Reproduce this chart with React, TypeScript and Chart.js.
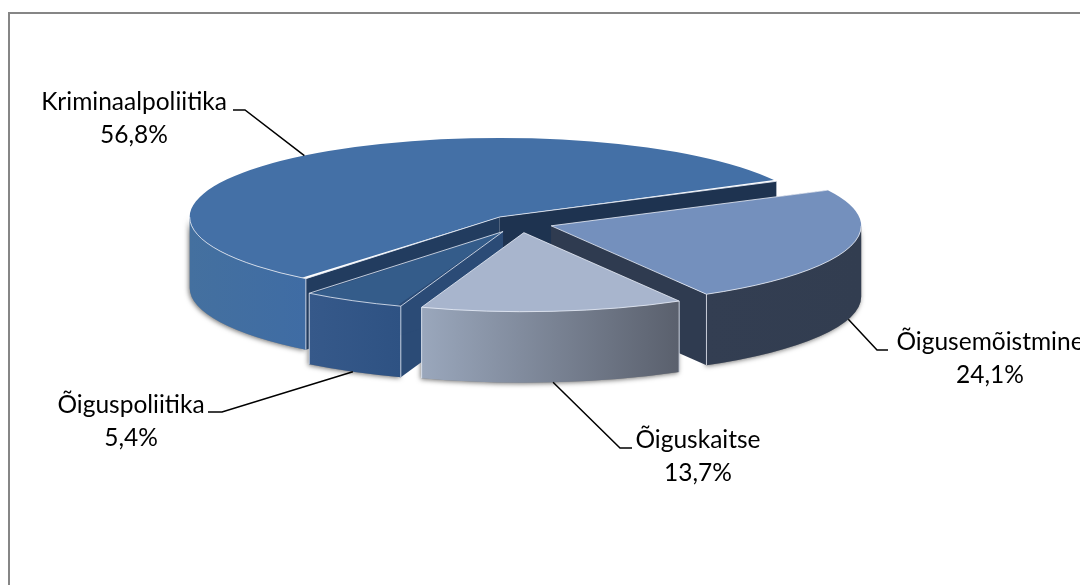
import React, { useEffect, useRef } from "react";
import { Chart, registerables } from "chart.js";

Chart.register(...registerables);

const categories = ["Kriminaalpoliitika", "Õigusemõistmine", "Õiguskaitse", "Õiguspoliitika"];
const shares = [56.8, 24.1, 13.7, 5.4];
const explode = [33, 32, 36, 36];
const topColors = ["#4470a6", "#7490bd", "#a8b5cd", "#345c8a"];
const wallColors = [["#44709f", "#3f6ca4"], ["#333e52", "#323d50"], ["#9aa7bc", "#5a606d"], ["#36598a", "#2e5283"]];
const cutColors = ["#223c5f", "#2f3b50", "#a8b5cd", "#2b4b76"];
const cutColorsEnd = ["#1e3350", "#2f3b50", "#a8b5cd", "#2b4b76"];

// Layout of the 3D look and of the labels, not data.
const SQUASH = 0.255;
const DEPTH = 71;
const PIE_RADIUS = 310;
const FONT = '24.5px Lato, "Open Sans", sans-serif';
const labelLayout = [
  { cx: 134, base: 110, elbow: [245, 110], end: [233, 110] },
  { cx: 990, base: 350, elbow: [877, 350], end: [888, 350] },
  { cx: 698, base: 448, elbow: [620, 448], end: [632, 448] },
  { cx: 131, base: 413, elbow: [222, 412], end: [208, 412] },
];
const paintOrder = [0, 1, 3, 2];

// Chart.js grows an exploded arc by offset * fix, with fix depending on its sweep.
function growth(arc: any) {
  const o = (arc.options.offset || 0) / 4;
  return o * (1 - Math.sin(Math.min(Math.PI, arc.circumference || 0)));
}

function geom(arc: any, cy: number) {
  const o = (arc.options.offset || 0) / 4;
  const s = arc.startAngle;
  const e = arc.endAngle;
  const mid = (s + e) / 2;
  const tx = arc.x + Math.cos(mid) * o;
  const ty = cy + (arc.y + Math.sin(mid) * o - cy) * SQUASH;
  const r = arc.outerRadius + growth(arc);
  const pt = (a: number): [number, number] => [tx + r * Math.cos(a), ty + r * SQUASH * Math.sin(a)];
  const front: [number, number][] = [];
  for (let n = 0; n < 2; n++) {
    const lo = Math.max(s, 2 * Math.PI * n);
    const hi = Math.min(e, 2 * Math.PI * n + Math.PI);
    if (hi > lo) front.push([lo, hi]);
  }
  return { s, e, mid, tx, ty, r, pt, front };
}

function wallPath(ctx: CanvasRenderingContext2D, g: any, a0: number, a1: number) {
  ctx.beginPath();
  ctx.ellipse(g.tx, g.ty, g.r, g.r * SQUASH, 0, a0, a1);
  ctx.ellipse(g.tx, g.ty + DEPTH, g.r, g.r * SQUASH, 0, a1, a0, true);
  ctx.closePath();
}

const pie3d = {
  id: "pie3d",
  afterDatasetsUpdate(chart: any) {
    chart.getDatasetMeta(0).data.forEach((arc: any) => {
      arc.outerRadius = PIE_RADIUS - growth(arc);
    });
  },
  beforeDraw(chart: any) {
    const ctx = chart.ctx;
    ctx.save();
    ctx.fillStyle = "#ffffff";
    ctx.fillRect(0, 0, chart.width, chart.height);
    ctx.strokeStyle = "#868686";
    ctx.lineWidth = 2;
    ctx.beginPath();
    ctx.moveTo(9, chart.height);
    ctx.lineTo(9, 13);
    ctx.lineTo(chart.width, 13);
    ctx.stroke();
    ctx.restore();
  },
  beforeDatasetsDraw(chart: any) {
    const ctx = chart.ctx;
    const arcs = chart.getDatasetMeta(0).data;
    const cy = arcs[0].y;
    const cx = arcs[0].x;
    // soft ground shadow
    ctx.save();
    ctx.shadowColor = "rgba(0,0,0,0.55)";
    ctx.shadowBlur = 5;
    ctx.shadowOffsetX = -1;
    ctx.shadowOffsetY = 1;
    ctx.fillStyle = "#888";
    paintOrder.forEach((i) => {
      const g = geom(arcs[i], cy);
      g.front.forEach(([a0, a1]) => {
        wallPath(ctx, g, a0, a1);
        ctx.fill();
      });
    });
    ctx.restore();
    // side walls and cut faces
    paintOrder.forEach((i) => {
      const g = geom(arcs[i], cy);
      const faces: [number, string][] = [[g.s, cutColors[i]], [g.e, cutColorsEnd[i]]];
      faces.forEach(([a, col]) => {
        const p = g.pt(a);
        ctx.beginPath();
        ctx.moveTo(g.tx, g.ty);
        ctx.lineTo(p[0], p[1]);
        ctx.lineTo(p[0], p[1] + DEPTH);
        ctx.lineTo(g.tx, g.ty + DEPTH);
        ctx.closePath();
        ctx.fillStyle = col;
        ctx.fill();
      });
      g.front.forEach(([a0, a1]) => {
        const xs: number[] = [g.pt(a0)[0], g.pt(a1)[0]];
        if (a0 < Math.PI * 1 && a1 > Math.PI * 0.999) xs.push(g.tx - g.r);
        const grad = ctx.createLinearGradient(Math.min(...xs), 0, Math.max(...xs), 0);
        grad.addColorStop(0, wallColors[i][0]);
        grad.addColorStop(1, wallColors[i][1]);
        wallPath(ctx, g, a0, a1);
        ctx.fillStyle = grad;
        ctx.fill();
      });
    });
    // squash the library's own round arcs into the top faces
    ctx.save();
    ctx.translate(cx, cy);
    ctx.scale(1, SQUASH);
    ctx.translate(-cx, -cy);
  },
  afterDatasetsDraw(chart: any) {
    const ctx = chart.ctx;
    ctx.restore();
    const arcs = chart.getDatasetMeta(0).data;
    const cy = arcs[0].y;
    // pale bevel lines
    ctx.save();
    ctx.lineWidth = 1;
    paintOrder.forEach((i) => {
      const g = geom(arcs[i], cy);
      ctx.strokeStyle = "rgba(232,238,248,0.8)";
      const a = g.pt(g.s);
      const b = g.pt(g.e);
      ctx.beginPath();
      ctx.moveTo(a[0], a[1]);
      ctx.lineTo(g.tx, g.ty);
      ctx.lineTo(b[0], b[1]);
      ctx.stroke();
      g.front.forEach(([a0, a1]) => {
        ctx.beginPath();
        ctx.ellipse(g.tx, g.ty, g.r, g.r * SQUASH, 0, a0, a1);
        ctx.stroke();
        [a0, a1].forEach((v) => {
          if (v !== g.s && v !== g.e) return;
          const p = g.pt(v);
          ctx.beginPath();
          ctx.moveTo(p[0], p[1]);
          ctx.lineTo(p[0], p[1] + DEPTH);
          ctx.stroke();
        });
      });
    });
    ctx.restore();
    // leader lines and labels
    ctx.save();
    ctx.strokeStyle = "#000000";
    ctx.lineWidth = 1.5;
    ctx.fillStyle = "#000000";
    ctx.font = FONT;
    ctx.textAlign = "center";
    ctx.textBaseline = "alphabetic";
    categories.forEach((name, i) => {
      const g = geom(arcs[i], cy);
      const p = g.pt(g.mid);
      const startY = Math.sin(g.mid) > 0 ? p[1] + DEPTH : p[1];
      const l = labelLayout[i];
      ctx.beginPath();
      ctx.moveTo(p[0], startY);
      ctx.lineTo(l.elbow[0], l.elbow[1]);
      ctx.lineTo(l.end[0], l.end[1]);
      ctx.stroke();
      ctx.fillText(name, l.cx, l.base);
      ctx.fillText(shares[i].toFixed(1).replace(".", ",") + "%", l.cx, l.base + 33);
    });
    ctx.restore();
  },
};

export default function App() {
  const ref = useRef<HTMLCanvasElement>(null);
  useEffect(() => {
    const chart = new Chart(ref.current as HTMLCanvasElement, {
      type: "pie",
      data: {
        labels: categories,
        datasets: [
          {
            data: shares,
            backgroundColor: topColors,
            borderWidth: 0,
            offset: explode.map((d) => d * 4),
            clip: false,
          } as any,
        ],
      },
      options: {
        responsive: false,
        animation: false,
        rotation: 218.7,
        radius: 276,
        layout: { padding: { left: 0, top: 0, right: 39, bottom: 138 } },
        plugins: { legend: { display: false }, tooltip: { enabled: false } },
      } as any,
      plugins: [pie3d],
    });
    return () => chart.destroy();
  }, []);
  return (
    <div style={{ position: "absolute", left: 0, top: 0, width: 1080, height: 585, overflow: "hidden" }}>
      <canvas ref={ref} width={1080} height={585} style={{ display: "block" }} />
    </div>
  );
}
